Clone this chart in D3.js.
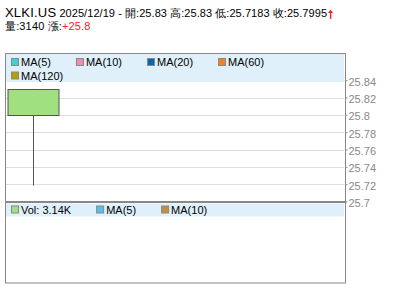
<!DOCTYPE html>
<html>
<head>
<meta charset="utf-8">
<script src="https://cdn.jsdelivr.net/npm/d3@7"></script>
<style>
body{margin:0;background:#fff;}
svg{display:block;font-family:"Liberation Sans",Arial,sans-serif;}
</style>
</head>
<body>
<script>
// data
const symbol="XLKI.US"
const dates=["2025/12/19"]
const opens=[25.83]
const highs=[25.83]
const lows=[25.7183]
const closes=[25.7995]
const volumes=[3140]
const change="+25.8"
const priceTicks=[25.7,25.72,25.74,25.76,25.78,25.8,25.82,25.84]
const maLabels=["MA(5)","MA(10)","MA(20)","MA(60)","MA(120)"]
const maColors=["#40d0d0","#f08cb4","#0a64b4","#f58220","#b4a000"]
const volLabels=["Vol: 3.14K","MA(5)","MA(10)"]
const volColors=["#a0e080","#50c0f0","#c09040"]

//constants
const w=400,h=301
const pL=5,pR=345,pT=53,pSep=201.5,pB=282.5
const slotCount=6

const svg=d3.select("body").append("svg").attr("width",w).attr("height",h)

//scales
const x=d3.scaleBand().domain(d3.range(slotCount)).range([pL+1,334])
const y=d3.scaleLinear().domain([25.7,25.84]).range([pSep,80.2])

//header
const h1=svg.append("text").attr("x",5).attr("y",17).attr("fill","#000").style("font-size","11px")
h1.append("tspan").style("font-size","13px").style("letter-spacing","0.2px").text(symbol)
h1.append("tspan").style("letter-spacing","0.06px").text(" "+dates[0]+" - 開:"+opens[0]+" 高:"+highs[0]+" 低:"+lows[0]+" 收:"+closes[0])
const h2=svg.append("text").attr("x",5).attr("y",30).attr("fill","#000").style("font-size","11px").style("letter-spacing","0.15px")
h2.append("tspan").text("量:"+volumes[0]+" 漲:")
h2.append("tspan").attr("fill","#ff2020").text(change)
const hb=h1.node().getBBox()
const ax=hb.x+hb.width+1
svg.append("path")
   .attr("d",`M${ax},13 L${ax+2.5},9.5 L${ax+5},13 L${ax+3.2},13 L${ax+3.2},19 L${ax+1.8},19 L${ax+1.8},13 Z`)
   .attr("fill","#ff2020")

//grid
svg.selectAll(".grid").data(priceTicks.slice(0,-1)).enter().append("line")
   .attr("x1",pL+1).attr("x2",pR-1)
   .attr("y1",d=>Math.round(y(d))+0.5).attr("y2",d=>Math.round(y(d))+0.5)
   .attr("stroke","#dddddd")

//legend backgrounds
svg.append("rect").attr("x",pL+1).attr("y",pT+1).attr("width",pR-pL-2).attr("height",28).attr("fill","#dff0fa")
svg.append("rect").attr("x",pL+1).attr("y",pSep+2).attr("width",pR-pL-2).attr("height",13).attr("fill","#dff0fa")

function legend(labels,colors,y0,rowH){
  let cx=11,cy=y0
  labels.forEach((l,i)=>{
    const t=svg.append("text").attr("x",cx+10).attr("y",cy+4).style("font-size","11px").attr("fill","#000").text(l)
    const tw=t.node().getComputedTextLength()
    if(cx+10+tw>300){
      cx=11;cy+=rowH
      t.attr("x",cx+10).attr("y",cy+4)
    }
    svg.append("rect").attr("x",cx+0.5).attr("y",cy-3.5).attr("width",7).attr("height",7)
       .attr("fill",colors[i]).attr("stroke","#888")
    cx+=10+tw+25
  })
}
legend(maLabels,maColors,62,13.5)
legend(volLabels,volColors,209.5,13)

//candles
const cw=x.bandwidth()*0.93
dates.forEach((d,i)=>{
  const cx=Math.round(x(i)+x.bandwidth()/2)+0.5
  const yo=y(opens[i]),yc=y(closes[i])
  svg.append("line").attr("x1",cx).attr("x2",cx)
     .attr("y1",y(highs[i])).attr("y2",y(lows[i])).attr("stroke","#555")
  svg.append("rect").attr("x",Math.round(cx-cw/2)).attr("y",Math.round(Math.min(yo,yc))+0.5)
     .attr("width",Math.round(cw)).attr("height",Math.round(Math.abs(yc-yo)))
     .attr("fill",closes[i]>=opens[i]?"#ff6060":"#a0e080").attr("stroke","#555")
})

//frame
svg.append("rect").attr("x",pL+0.5).attr("y",pT+0.5).attr("width",pR-pL).attr("height",pB-pT)
   .attr("fill","none").attr("stroke","#888")
svg.append("line").attr("x1",pL).attr("x2",pR).attr("y1",pSep+0.5).attr("y2",pSep+0.5)
   .attr("stroke","#888").attr("stroke-width",2)

//axis
const axis=svg.append("g").attr("transform",`translate(${pR+0.5},0)`)
   .call(d3.axisRight(y).tickValues(priceTicks).tickSize(2).tickFormat(d3.format("")))
axis.select(".domain").remove()
axis.selectAll("line").attr("stroke","#888")
axis.selectAll("text").attr("fill","#888").style("font-size","11px")
   .style("font-family","'Liberation Sans',Arial,sans-serif").attr("x",3).attr("dy","0.45em")
</script>
</body>
</html>
